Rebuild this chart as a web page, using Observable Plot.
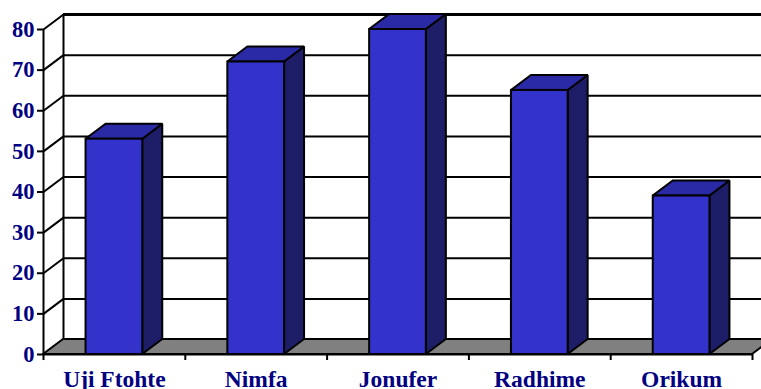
<!DOCTYPE html>
<html>
<head>
<meta charset="utf-8">
<script src="https://cdn.jsdelivr.net/npm/d3@7"></script>
<script src="https://cdn.jsdelivr.net/npm/@observablehq/plot@0.6"></script>
<style>
  html, body { margin: 0; padding: 0; background: #fff; overflow: hidden; }
</style>
</head>
<body>
<div id="chart"></div>
<script>
const categories = ["Uji Ftohte", "Nimfa", "Jonufer", "Radhime", "Orikum"];
const values = [53, 72, 80, 65, 39];
const yTicks = [0, 10, 20, 30, 40, 50, 60, 70, 80];

// 3-D depth expressed in data units (x: category slots, y: value units)
const depthX = 0.141;
const depthY = 3.69;
const barLo = 0.3, barHi = 0.7;
const n = categories.length;

const bars = categories.map((c, i) => ({c, i, v: values[i]}));

const sides = bars.flatMap(({c, i, v}) => [
  {c, x: i + barHi, y1: 0, y2: v},
  {c, x: i + barHi + depthX, y1: depthY, y2: v + depthY}
]);
const tops = bars.flatMap(({c, i, v}) => [
  {c, x: i + barLo, y1: v, y2: v},
  {c, x: i + barLo + depthX, y1: v, y2: v + depthY},
  {c, x: i + barHi, y1: v, y2: v + depthY},
  {c, x: i + barHi + depthX, y1: v + depthY, y2: v + depthY}
]);
const floor = [
  {x: 0, y1: 0, y2: 0},
  {x: depthX, y1: 0, y2: depthY},
  {x: n, y1: 0, y2: depthY},
  {x: n + depthX, y1: depthY, y2: depthY}
];

const family = "Liberation Serif, Times New Roman, serif";

const chart = Plot.plot({
  width: 761,
  height: 389,
  marginLeft: 43,
  marginRight: 9,
  marginTop: 29,
  marginBottom: 35,
  x: {domain: [0, n], label: null},
  y: {domain: [0, 80], label: null},
  marks: [
    // back wall gridlines
    Plot.ruleY(yTicks, {y: d => d + depthY, x1: depthX, x2: n + depthX + 0.2, stroke: "black", strokeWidth: d => d === 80 ? 3 : 2}),
    // side wall diagonals
    Plot.link(yTicks, {x1: 0, y1: d => d, x2: depthX, y2: d => d + depthY, stroke: "black", strokeWidth: 2}),
    // back-left vertical edge
    Plot.ruleX([depthX], {y1: depthY, y2: 80 + depthY, stroke: "black", strokeWidth: 2}),
    // floor
    Plot.area(floor, {x1: "x", y1: "y1", y2: "y2", fill: "#808080", stroke: "black", strokeWidth: 2}),
    // front vertical axis line
    Plot.ruleX([0], {y1: 0, y2: 80, stroke: "black", strokeWidth: 2}),
    // front floor edge
    Plot.ruleY([0], {x1: 0, x2: n, stroke: "black", strokeWidth: 2}),
    // bars: side, top, front
    Plot.area(sides, {x1: "x", y1: "y1", y2: "y2", z: "c", fill: "#1d1d68", stroke: "black", strokeWidth: 2, strokeLinejoin: "miter"}),
    Plot.area(tops, {x1: "x", y1: "y1", y2: "y2", z: "c", fill: "#2a2aa6", stroke: "black", strokeWidth: 2, strokeLinejoin: "miter"}),
    Plot.rectY(bars, {x1: d => d.i + barLo, x2: d => d.i + barHi, y1: 0, y2: "v", fill: "#3333cc", stroke: "black", strokeWidth: 2}),
    // axes
    Plot.axisY({ticks: yTicks, tickSize: 6, tickPadding: 3, label: null, stroke: "black", strokeWidth: 2, fill: "#000080", fontFamily: family, fontWeight: "bold", fontSize: 22.5}),
    Plot.axisX({ticks: d3.range(n + 1), tickSize: 6, label: null, tickFormat: () => "", stroke: "black", strokeWidth: 2}),
    Plot.axisX({ticks: d3.range(n).map(i => i + 0.5), tickSize: 0, tickPadding: 16, label: null, tickFormat: d => categories[Math.floor(d)], fill: "#000080", fontFamily: family, fontWeight: "bold", fontSize: 23.5})
  ]
});
document.getElementById("chart").appendChild(chart);
</script>
</body>
</html>
